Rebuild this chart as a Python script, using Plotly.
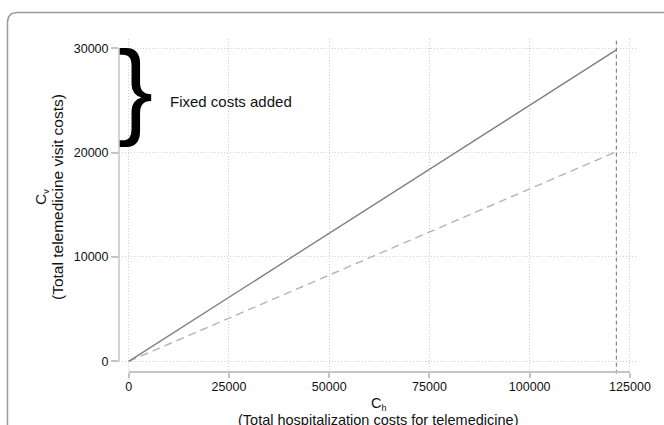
import plotly.graph_objects as go

# Hospitalization costs (x) and the two cost lines
hosp_costs = [0, 121600]
visit_costs_with_fixed = [0, 29850]
visit_costs_variable = [0, 20100]

x_ticks = [0, 25000, 50000, 75000, 100000, 125000]
y_ticks = [0, 10000, 20000, 30000]

FONT = "Liberation Sans, Arial, sans-serif"
W_FIG, H_FIG = 664, 425
L, R, T, B = 119, 638, 39, 372  # plot area edges in pixels
PW, PH = R - L, B - T


def px_x(px):
    return (px - L) / PW


def px_y(py):
    return (B - py) / PH


fig = go.Figure()

fig.add_trace(go.Scatter(
    x=hosp_costs, y=visit_costs_variable, mode="lines",
    line=dict(color="#b4b4b4", width=1.4, dash="8px,5px"),
    hoverinfo="skip", showlegend=False))
fig.add_trace(go.Scatter(
    x=hosp_costs, y=visit_costs_with_fixed, mode="lines",
    line=dict(color="#808080", width=1.4),
    hoverinfo="skip", showlegend=False))

shapes = []
# vertical reference line at the end of the cost range
shapes.append(dict(type="line", xref="x", yref="paper",
                   x0=hosp_costs[-1], x1=hosp_costs[-1], y0=-0.005, y1=1,
                   line=dict(color="#6e6e6e", width=1, dash="4px,3px")))
# separated axis lines spanning only the tick range
shapes.append(dict(type="line", xref="x", yref="paper",
                   x0=x_ticks[0], x1=x_ticks[-1], y0=0, y1=0,
                   line=dict(color="#c4c4c4", width=2)))
shapes.append(dict(type="line", xref="paper", yref="y",
                   x0=0, x1=0, y0=y_ticks[0], y1=y_ticks[-1],
                   line=dict(color="#c4c4c4", width=1.5)))
# rounded outer frame
fx, fy, rad = 7.5, 12.5, 10
frame_path = (f"M {px_x(fx)} {px_y(440)} L {px_x(fx)} {px_y(fy + rad)} "
              f"Q {px_x(fx)} {px_y(fy)} {px_x(fx + rad)} {px_y(fy)} "
              f"L {px_x(680)} {px_y(fy)}")
shapes.append(dict(type="path", xref="paper", yref="paper", path=frame_path,
                   line=dict(color="#9c9c9c", width=1.5)))

SUB = "<sub><span style='font-size:9px'>{}</span></sub>"

annotations = [
    # brace over the fixed-cost gap
    dict(text="}", xref="paper", yref="y", x=px_x(116), y=25000,
         xanchor="left", yanchor="middle", yshift=12, showarrow=False,
         font=dict(family=FONT, size=105, color="black")),
    dict(text="Fixed costs added", xref="paper", yref="paper",
         x=px_x(168), y=px_y(101), xanchor="left", yanchor="middle",
         showarrow=False, font=dict(family=FONT, size=15, color="#111")),
    # x axis title (two lines)
    dict(text="C" + SUB.format("h"), xref="paper", yref="paper",
         x=px_x(379), y=0, yanchor="top", yshift=-21, showarrow=False,
         font=dict(family=FONT, size=14.5, color="#111")),
    dict(text="(Total hospitalization costs for telemedicine)",
         xref="paper", yref="paper", x=px_x(378), y=0, yanchor="top",
         yshift=-38, showarrow=False,
         font=dict(family=FONT, size=14.5, color="#111")),
    # y axis title (two lines)
    dict(text="C" + SUB.format("v"), xref="paper", yref="paper",
         x=px_x(41), y=px_y(197), xanchor="center", yanchor="middle",
         textangle=-90, showarrow=False,
         font=dict(family=FONT, size=15.5, color="#111")),
    dict(text="(Total telemedicine visit costs)", xref="paper", yref="paper",
         x=px_x(57), y=px_y(197), xanchor="center", yanchor="middle",
         textangle=-90, showarrow=False,
         font=dict(family=FONT, size=15.5, color="#111")),
]

fig.update_layout(
    width=W_FIG, height=H_FIG,
    margin=dict(l=L, r=W_FIG - R, t=T, b=H_FIG - B, pad=0),
    paper_bgcolor="white", plot_bgcolor="white",
    font=dict(family=FONT, size=12.5, color="#111"),
    shapes=shapes, annotations=annotations, showlegend=False,
)
fig.update_xaxes(
    range=[-2420, 127000], tickvals=x_ticks,
    ticktext=[str(v) for v in x_ticks],
    showgrid=True, gridcolor="#cfcfcf", gridwidth=1, griddash="1px,2px",
    zeroline=False, showline=False, ticklabelstandoff=-2,
    ticks="outside", ticklen=5, tickwidth=1.5, tickcolor="#c4c4c4",
)
fig.update_yaxes(
    range=[-1026, 30900], tickvals=y_ticks,
    ticktext=[str(v) for v in y_ticks],
    showgrid=True, gridcolor="#cfcfcf", gridwidth=1, griddash="1px,2px",
    zeroline=False, showline=False,
    ticks="outside", ticklen=7, tickwidth=1.5, tickcolor="#c4c4c4",
)

fig.write_html("out.html")
